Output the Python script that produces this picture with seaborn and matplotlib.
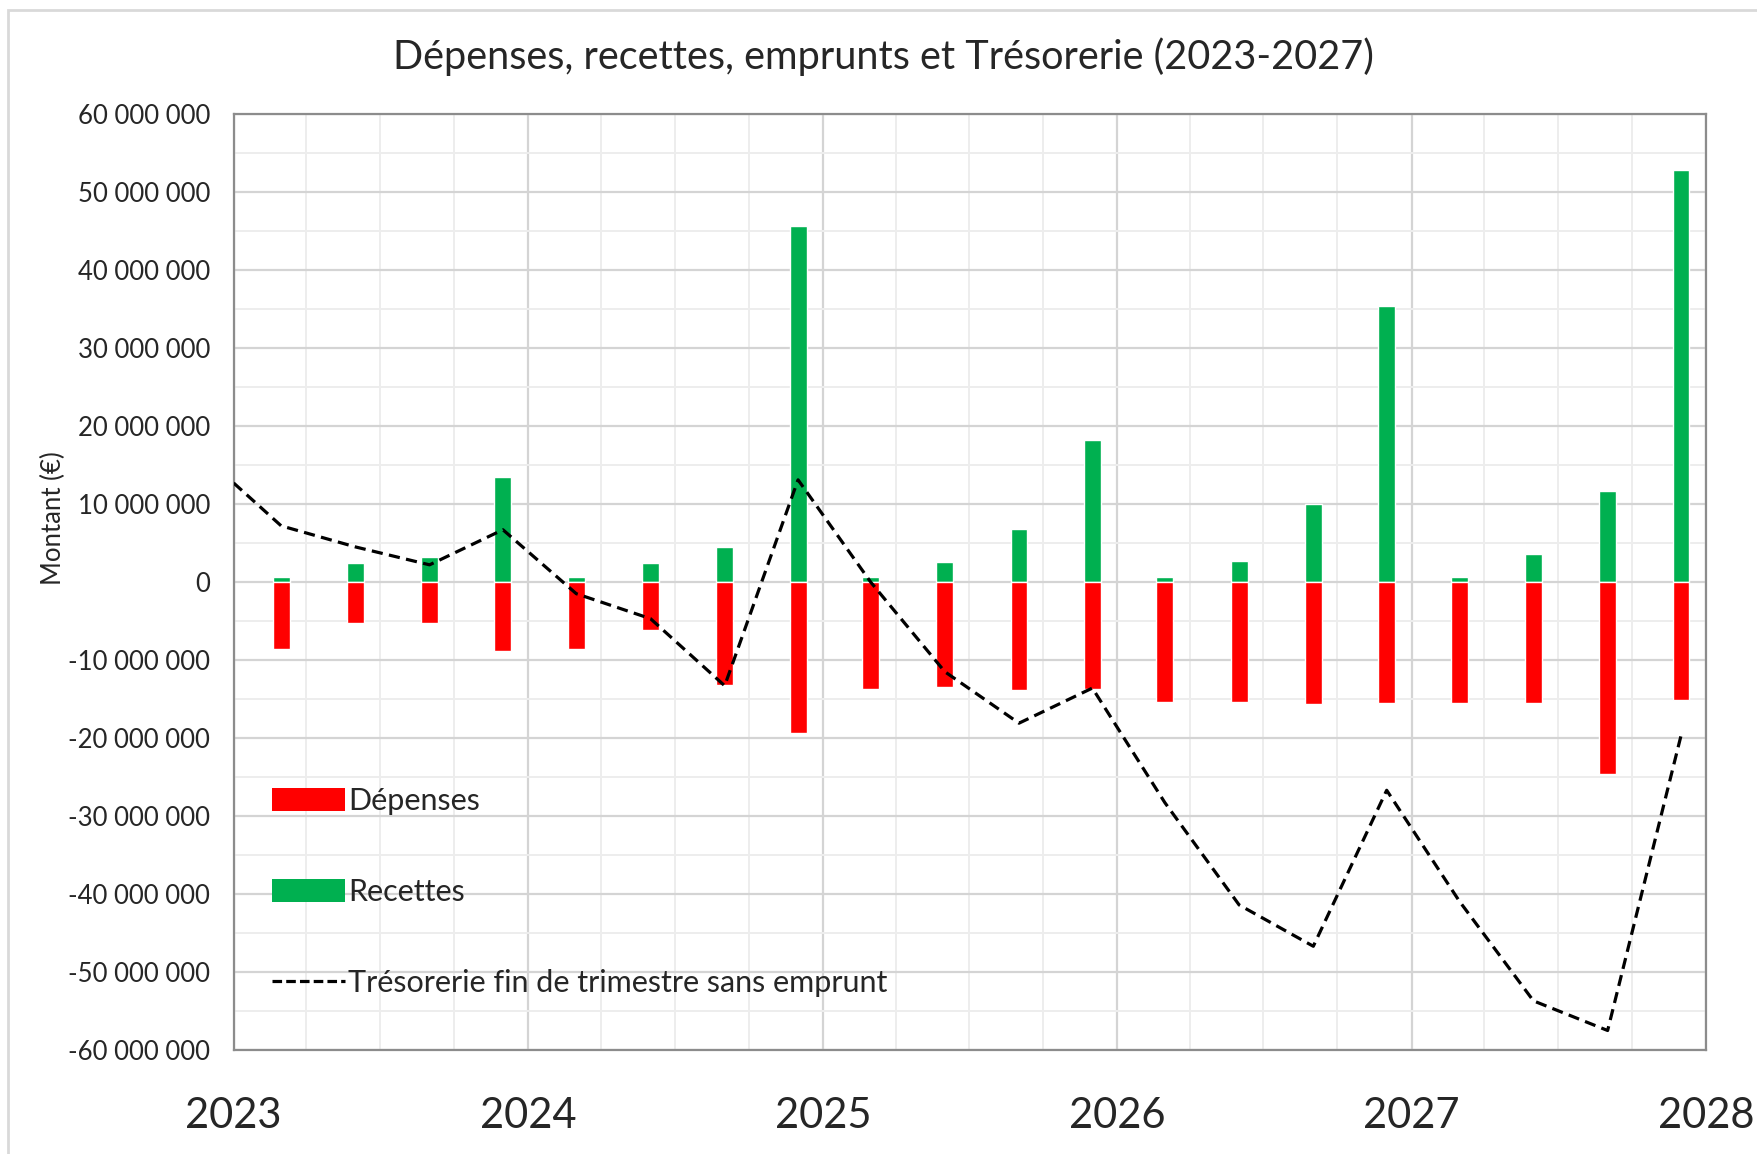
import numpy as np
import pandas as pd
import matplotlib.pyplot as plt
import matplotlib.dates as mdates
import seaborn as sns
from matplotlib.patches import Patch, Rectangle
from matplotlib.lines import Line2D
from matplotlib.ticker import FuncFormatter, MultipleLocator

# quarterly flows (bars placed on the first day of the quarter's last month)
bar_dates = ["2023-03-01", "2023-06-01", "2023-09-01", "2023-12-01",
             "2024-03-01", "2024-06-01", "2024-09-01", "2024-12-01",
             "2025-03-01", "2025-06-01", "2025-09-01", "2025-12-01",
             "2026-03-01", "2026-06-01", "2026-09-01", "2026-12-01",
             "2027-03-01", "2027-06-01", "2027-09-01", "2027-12-01"]
recettes = [0.6, 2.5, 3.2, 13.5, 0.6, 2.5, 4.5, 45.7, 0.6, 2.6,
            6.8, 18.2, 0.6, 2.7, 10.0, 35.4, 0.6, 3.6, 11.7, 52.8]
depenses = [-8.6, -5.3, -5.3, -8.9, -8.6, -6.1, -13.2, -19.3, -13.7, -13.4,
            -13.9, -13.7, -15.4, -15.4, -15.7, -15.5, -15.5, -15.5, -24.6, -15.1]

# end-of-quarter cash without borrowing
treso_dates = ["2023-01-01"] + bar_dates
tresorerie = [12.7, 7.2, 4.5, 2.2, 6.7, -1.5, -4.7, -13.3, 13.1, 0.0, -11.5,
              -18.1, -13.6, -28.3, -41.4, -46.7, -26.7, -40.9, -53.7, -57.5, -19.7]

M = 1e6
bars = pd.DataFrame({"date": pd.to_datetime(bar_dates),
                     "Recettes": np.array(recettes) * M,
                     "Dépenses": np.array(depenses) * M})
treso = pd.DataFrame({"date": pd.to_datetime(treso_dates),
                      "Trésorerie": np.array(tresorerie) * M})

sns.set_theme(style="white")
plt.rcParams["font.family"] = ["Lato", "DejaVu Sans"]

fig = plt.figure(figsize=(17.57, 11.54), dpi=100)
ax = fig.add_axes([233.6 / 1757, 1 - 1050 / 1154, (1706 - 233.6) / 1757, (1050 - 114) / 1154])

# light frame around the whole chart
fig.patches.append(Rectangle((8 / 1757, -0.01), 1.1, 1 - 10 / 1154 + 0.01, transform=fig.transFigure,
                             fill=False, edgecolor="#d9d9d9", linewidth=2, zorder=0))

ax.bar(bars["date"], bars["Recettes"], width=21, color="#00B050", zorder=3)
ax.bar(bars["date"], bars["Dépenses"], width=21, color="#FF0000", zorder=3)
sns.lineplot(data=treso, x="date", y="Trésorerie", ax=ax, color="black",
             linewidth=2.3, linestyle=(0, (3.5, 2)), zorder=4)

ax.set_xlim(pd.Timestamp("2023-01-01"), pd.Timestamp("2028-01-01"))
ax.set_ylim(-60 * M, 60 * M)

ax.xaxis.set_major_locator(mdates.YearLocator())
ax.xaxis.set_major_formatter(mdates.DateFormatter("%Y"))
ax.xaxis.set_minor_locator(mdates.MonthLocator(bymonth=[4, 7, 10]))
ax.yaxis.set_major_locator(MultipleLocator(10 * M))
ax.yaxis.set_minor_locator(MultipleLocator(5 * M))
ax.yaxis.set_major_formatter(FuncFormatter(lambda v, p: f"{int(round(v)):,}".replace(",", " ")))

ax.grid(which="major", axis="both", color="#d4d4d4", linewidth=1.6, zorder=0)
ax.grid(which="minor", axis="both", color="#ededed", linewidth=1.4, zorder=0)
ax.set_axisbelow(True)
for s in ax.spines.values():
    s.set_color("#8c8c8c")
    s.set_linewidth(1.6)

ax.tick_params(axis="x", which="both", length=0, labelsize=30, pad=34)
ax.tick_params(axis="y", which="both", length=0, labelsize=18.5, pad=17)
ax.set_xlabel("")
ax.set_ylabel("Montant (€)", fontsize=18.5)
ax.yaxis.set_label_coords(-0.114, 0.568)

fig.text(0.503, 1 - 57 / 1154, "Dépenses, recettes, emprunts et Trésorerie (2023-2027)",
         ha="center", va="center", fontsize=28.5)

handles = [Patch(facecolor="#FF0000", edgecolor="none", label="Dépenses"),
           Patch(facecolor="#00B050", edgecolor="none", label="Recettes"),
           Line2D([0], [0], color="black", linewidth=2.3, linestyle=(0, (3, 1.3)),
                  label="Trésorerie fin de trimestre sans emprunt")]
ax.legend(handles=handles, loc="upper left", bbox_to_anchor=(0.026, 0.281), frameon=False,
          fontsize=22, handlelength=2.4, handleheight=0.8, handletextpad=0.1,
          labelspacing=2.07, borderpad=0, borderaxespad=0)

fig.savefig("out.png", dpi=100)
